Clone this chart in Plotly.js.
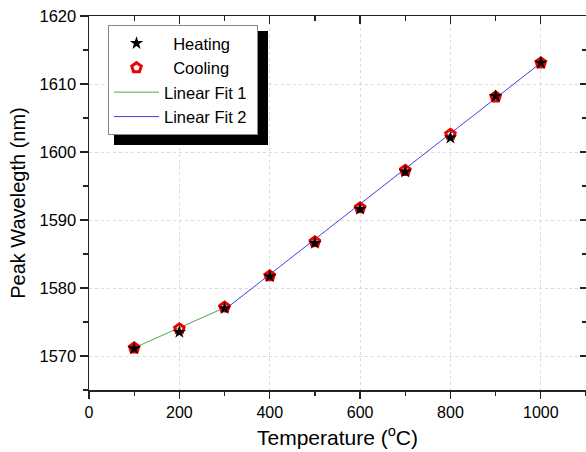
<!DOCTYPE html>
<html>
<head>
<meta charset="utf-8">
<script src="https://cdn.plot.ly/plotly-3.0.1.min.js"></script>
<style>html,body{margin:0;padding:0;background:#fff;overflow:hidden}#chart{width:586px;height:452px}</style>
</head>
<body>
<div id="chart"></div>
<script>
// Data
var temperature = [100, 200, 300, 400, 500, 600, 700, 800, 900, 1000];
var heating = [1571.1, 1573.5, 1577.0, 1581.7, 1586.6, 1591.6, 1597.1, 1602.1, 1608.2, 1613.1];
var cooling = [1571.2, 1574.0, 1577.2, 1581.8, 1586.8, 1591.8, 1597.3, 1602.6, 1608.1, 1613.1];
var fit1X = [100, 300];
var fit1Y = [1571.2, 1577.1];
var fit2X = [300, 1000];
var fit2Y = [1576.8, 1613.1];
var seriesNames = ['\u00a0\u00a0Heating', '\u00a0\u00a0Cooling', 'Linear Fit 1', 'Linear Fit 2\u00a0'];

var font = "Liberation Sans, Arial, sans-serif";

var traces = [
  {x: fit1X, y: fit1Y, mode: 'lines', name: seriesNames[2], legendrank: 3,
   line: {color: '#4ea84e', width: 1}},
  {x: fit2X, y: fit2Y, mode: 'lines', name: seriesNames[3], legendrank: 4,
   line: {color: '#3f3fe6', width: 1}},
  {x: temperature, y: cooling, mode: 'markers', name: seriesNames[1], legendrank: 2,
   marker: {symbol: 'pentagon-open', size: 10, color: '#ee0000', line: {width: 3, color: '#ee0000'}}},
  {x: temperature, y: heating, mode: 'markers', name: seriesNames[0], legendrank: 1,
   marker: {symbol: 'star', size: 10, color: '#000000', line: {width: 0}}},
  {x: [], y: [], xaxis: 'x2', yaxis: 'y2', showlegend: false, hoverinfo: 'skip'}
];

var L = 89, R = 0, T = 16, B = 62;
var W = 586 - L - R, H = 452 - T - B;
function px(v) { return (v - L) / W; }
function py(v) { return (452 - B - v) / H; }
var legLeft = 108, legTop = 25, legW = 154, legH = 114, shadowOff = 6;

var layout = {
  width: 586, height: 452,
  margin: {l: L, r: R, t: T, b: B, pad: 0},
  paper_bgcolor: '#ffffff', plot_bgcolor: '#ffffff',
  font: {family: font, color: '#000', size: 16},
  showlegend: true,
  xaxis: {
    range: [0, 1100], dtick: 200, tick0: 0,
    ticks: 'outside', ticklen: 7, tickwidth: 1.3, tickcolor: '#222',
    minor: {dtick: 100, ticks: 'outside', ticklen: 4, tickwidth: 1.3, tickcolor: '#222', showgrid: false},
    showline: true, linecolor: '#222', linewidth: 1.5,
    showgrid: true, gridcolor: '#dadada', griddash: 'dot', gridwidth: 1,
    zeroline: false,
    tickfont: {size: 16, family: font},
    title: {text: 'Temperature (<sup>o</sup>C)', font: {size: 21, family: font}, standoff: 10}
  },
  yaxis: {
    range: [1565, 1620], dtick: 10, tick0: 1570,
    ticks: 'outside', ticklen: 8, tickwidth: 1.3, tickcolor: '#222',
    minor: {dtick: 5, ticks: 'outside', ticklen: 5, tickwidth: 1.3, tickcolor: '#222', showgrid: false},
    showline: true, linecolor: '#222', linewidth: 1.5,
    showgrid: true, gridcolor: '#dadada', griddash: 'dot', gridwidth: 1,
    zeroline: false,
    tickfont: {size: 16.5, family: font},
    title: {text: 'Peak Wavelegth (nm)', font: {size: 20, family: font}, standoff: 8}
  },
  xaxis2: {
    overlaying: 'x', side: 'top', anchor: 'y2', matches: 'x',
    range: [0, 1100], dtick: 200, tick0: 0,
    ticks: 'inside', ticklen: 8, tickwidth: 1.3, tickcolor: '#222',
    minor: {dtick: 100, ticks: 'inside', ticklen: 5, tickwidth: 1.3, tickcolor: '#222', showgrid: false},
    showline: true, linecolor: '#222', linewidth: 1.5,
    showgrid: false, zeroline: false, showticklabels: false
  },
  yaxis2: {
    overlaying: 'y', side: 'right', anchor: 'x2',
    range: [1565, 1620], dtick: 10, tick0: 1570,
    ticks: 'inside', ticklen: 6, tickwidth: 1.3, tickcolor: '#222',
    minor: {dtick: 5, ticks: 'inside', ticklen: 4, tickwidth: 1.3, tickcolor: '#222', showgrid: false},
    showline: true, linecolor: '#222', linewidth: 1.5,
    showgrid: false, zeroline: false, showticklabels: false
  },
  legend: {
    x: px(legLeft), y: py(legTop), xanchor: 'left', yanchor: 'top',
    bgcolor: '#ffffff', bordercolor: '#888888', borderwidth: 1,
    font: {size: 16.5, family: font, color: '#000'},
    itemwidth: 45, tracegroupgap: 0,
    traceorder: 'normal'
  },
  shapes: [
    {type: 'rect', xref: 'paper', yref: 'paper', layer: 'above',
     x0: px(legLeft + shadowOff), x1: px(legLeft + legW + shadowOff),
     y0: py(legTop + shadowOff), y1: py(legTop + legH + shadowOff),
     fillcolor: '#000000', line: {width: 0}}
  ]
};

Plotly.newPlot('chart', traces, layout, {displayModeBar: false, staticPlot: true});
</script>
</body>
</html>
